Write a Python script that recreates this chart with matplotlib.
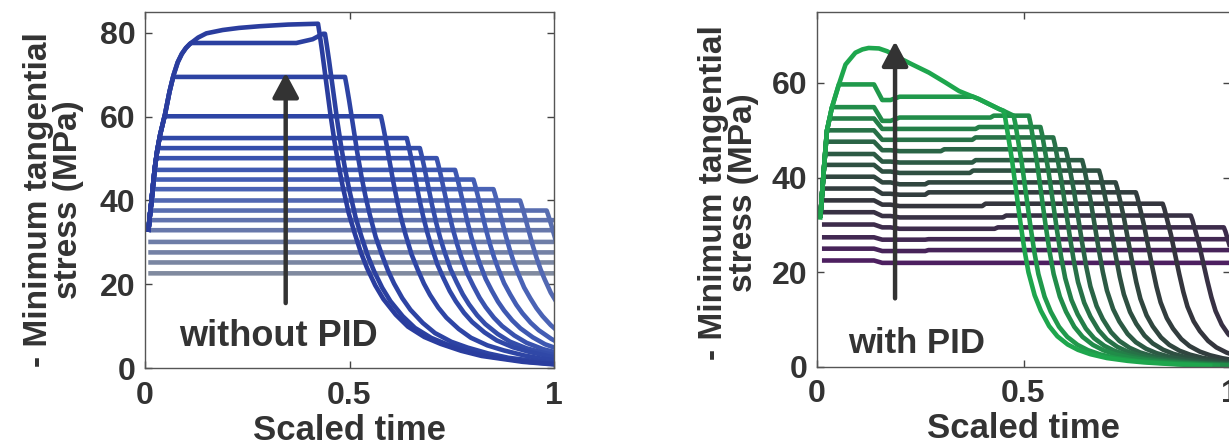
import numpy as np
import matplotlib
matplotlib.use("Agg")
import matplotlib.pyplot as plt
from matplotlib.colors import LinearSegmentedColormap

# ---------------- left panel: without PID ----------------
# rising envelope shared by every run (scaled time, MPa)
off_rise_t = [0.008, 0.012, 0.016, 0.020, 0.024, 0.030, 0.037, 0.049, 0.060, 0.070,
              0.080, 0.090, 0.100, 0.110, 0.130, 0.150, 0.190, 0.230, 0.280, 0.350, 0.423]
off_rise_v = [32.5, 36.5, 40.0, 44.0, 47.8, 52.0, 55.7, 60.6, 66.0, 70.0,
              73.0, 75.0, 76.4, 77.4, 78.9, 79.9, 80.7, 81.2, 81.6, 82.0, 82.2]
# plateau level and time at which the load is released, one per run
off_levels = [22.6, 25.2, 27.6, 30.1, 32.9, 35.3, 37.6, 40.0, 42.7, 45.0,
              47.3, 50.1, 52.5, 54.9, 60.1, 69.5, 77.6, 82.2]
off_switch = [1.02, 1.02, 1.02, 1.02, 1.02, 1.02, 0.982, 0.917, 0.852, 0.803,
              0.758, 0.713, 0.672, 0.640, 0.577, 0.489, 0.440, 0.423]
# small rise just before release on the 77.6 MPa run
off_bump_t = [0.370, 0.410, 0.435]
off_bump_v = [77.6, 78.5, 79.8]
# relaxation after release: time since release vs fraction of held stress
off_decay_dt = [0.0, 0.004, 0.010, 0.020, 0.030, 0.040, 0.050, 0.060, 0.075, 0.090, 0.105,
                0.120, 0.140, 0.160, 0.190, 0.220, 0.260, 0.300, 0.350, 0.400, 0.500, 0.600]
off_decay_f = [1.0, 0.97, 0.92, 0.83, 0.74, 0.66, 0.59, 0.53, 0.45, 0.39, 0.335,
               0.29, 0.24, 0.20, 0.155, 0.12, 0.09, 0.07, 0.05, 0.035, 0.018, 0.008]

# ---------------- right panel: with PID ----------------
# top run, also the cap that the other runs merge into
on_cap_t = [0.008, 0.016, 0.024, 0.036, 0.053, 0.069, 0.093, 0.110, 0.125, 0.150, 0.170, 0.190,
            0.231, 0.271, 0.311, 0.344, 0.392, 0.441, 0.452, 0.476, 0.520, 1.05]
on_cap_v = [31.6, 41.0, 49.9, 54.8, 59.7, 63.9, 66.4, 67.1, 67.4, 67.3, 66.7, 65.7,
            63.9, 62.2, 60.1, 58.3, 56.6, 54.5, 54.1, 53.1, 53.1, 53.1]
on_top_switch = 0.452
# per run: initial level, dip level, level after recovery, later step time/level, release
on_level = [22.5, 25.0, 27.4, 30.1, 32.7, 35.2, 37.7, 40.2, 42.7, 45.0, 47.6, 50.0, 52.5, 54.9, 59.7]
on_dip = [22.0, 24.5, 26.9, 29.5, 31.9, 34.3, 36.6, 39.0, 41.3, 43.4, 45.8, 48.0, 50.3, 52.0, 56.4]
on_recov = [22.0, 24.5, 26.9, 29.2, 31.6, 34.0, 36.4, 38.6, 41.0, 43.2, 45.6, 48.0, 50.3, 52.7, 57.1]
on_step_t = [0.262, 0.262, 0.262, 0.430, 0.450, 0.400, 0.262, 0.262, 0.370, 0.376, 0.300, 0.376, 0.384, 0.420, 0.420]
on_step_v = [22.0, 24.7, 27.0, 29.5, 32.0, 34.5, 36.9, 39.0, 41.5, 43.7, 46.0, 48.5, 50.7, 53.1, 57.1]
on_switch = [1.02, 1.02, 1.02, 0.985, 0.905, 0.837, 0.772, 0.723, 0.683, 0.642, 0.602, 0.572, 0.541, 0.513, 0.476]
on_dip_t = [0.138, 0.158, 0.178, 0.200]
on_decay_dt = [0.0, 0.004, 0.010, 0.020, 0.030, 0.040, 0.050, 0.060, 0.075, 0.090, 0.110,
               0.130, 0.155, 0.180, 0.210, 0.250, 0.300, 0.340, 0.420, 0.500]
on_decay_f = [1.0, 0.97, 0.91, 0.81, 0.69, 0.57, 0.46, 0.37, 0.28, 0.22, 0.16,
              0.12, 0.088, 0.067, 0.05, 0.035, 0.024, 0.018, 0.010, 0.005]

TXT = "#333333"
plt.rcParams["font.family"] = ["Liberation Sans", "DejaVu Sans"]
plt.rcParams["font.weight"] = "bold"


def lower_of(t1, y1, t2, y2, t_lo, t_hi):
    """Pointwise minimum of two piecewise-linear curves on [t_lo, t_hi]."""
    t = np.union1d(np.asarray(t1, float), np.asarray(t2, float))
    t = np.union1d(t[(t >= t_lo) & (t <= t_hi)], [t_lo, t_hi])
    d = np.interp(t, t1, y1) - np.interp(t, t2, y2)
    cross = []
    for i in range(len(t) - 1):
        if d[i] * d[i + 1] < 0:
            cross.append(t[i] + d[i] / (d[i] - d[i + 1]) * (t[i + 1] - t[i]))
    t = np.union1d(t, cross)
    return t, np.minimum(np.interp(t, t1, y1), np.interp(t, t2, y2))


def add_release(t, y, ts, dt, frac):
    y_end = y[-1]
    t_dec = ts + np.asarray(dt)
    y_dec = y_end * np.asarray(frac)
    return np.concatenate([t, t_dec[1:]]), np.concatenate([y, y_dec[1:]])


def style_axes(ax, ymax, yticks):
    ax.set_xlim(0, 1)
    ax.set_ylim(0, ymax)
    ax.set_xticks([0, 0.5, 1])
    ax.set_xticklabels(["0", "0.5", "1"])
    ax.set_yticks(yticks)
    ax.tick_params(direction="in", top=True, right=True, length=5, width=1,
                   color="#444444", labelcolor=TXT, labelsize=23)
    ax.tick_params(axis="x", pad=9)
    ax.tick_params(axis="y", pad=7)
    for s in ax.spines.values():
        s.set_color("#555555")
        s.set_linewidth(1)
    ax.set_xlabel("Scaled time", fontsize=25, color=TXT, fontweight="bold")
    ax.xaxis.set_label_coords(0.5, -0.128)
    ax.set_ylabel("- Minimum tangential\nstress (MPa)", fontsize=24, color=TXT,
                  fontweight="bold", linespacing=0.95)


fig = plt.figure(figsize=(12.29, 4.47), dpi=100)
W, H = 1229, 447
ax1 = fig.add_axes([145 / W, 1 - 368 / H, 409 / W, 356 / H])
ax2 = fig.add_axes([817 / W, 1 - 367 / H, 413 / W, 355 / H])

# left panel
cmap_off = LinearSegmentedColormap.from_list(
    "off", ["#808a9f", "#6777ab", "#4660b6", "#3049a8", "#2a3d9e"])
n_off = len(off_levels)
for i, (lev, ts) in enumerate(zip(off_levels, off_switch)):
    pt = [0.008, ts]
    pv = [lev, lev]
    if lev == 77.6:
        pt = [0.008] + off_bump_t
        pv = [lev] + off_bump_v
    t, y = lower_of(pt, pv, off_rise_t, off_rise_v, 0.008, min(ts, 1.02))
    t, y = add_release(t, y, ts, off_decay_dt, off_decay_f)
    ax1.plot(t, y, color=cmap_off(i / (n_off - 1)), lw=3.3, solid_capstyle="butt")

# right panel
cmap_on = LinearSegmentedColormap.from_list(
    "on", ["#4d1f60", "#3f2a4f", "#34353d", "#2f4a40", "#2a6446", "#228548", "#1ea64d"])
n_on = len(on_level) + 1
for i in range(len(on_level)):
    ts = on_switch[i]
    pt = [0.008, on_dip_t[0], on_dip_t[1], on_dip_t[2], on_dip_t[3],
          on_step_t[i], on_step_t[i] + 0.008, ts]
    pv = [on_level[i], on_level[i], on_dip[i], on_dip[i], on_recov[i],
          on_recov[i], on_step_v[i], on_step_v[i]]
    start = 0.008 if on_level[i] > on_cap_v[0] else 0.012
    t, y = lower_of(pt, pv, on_cap_t, on_cap_v, start, ts)
    t, y = add_release(t, y, ts, on_decay_dt, on_decay_f)
    ax2.plot(t, y, color=cmap_on(i / (n_on - 1)), lw=3.3, solid_capstyle="butt")
top_t = np.array(on_cap_t)
keep = top_t <= on_top_switch
t, y = add_release(top_t[keep], np.array(on_cap_v)[keep], on_top_switch, on_decay_dt, on_decay_f)
ax2.plot(t, y, color=cmap_on(1.0), lw=3.3)

arrow = dict(arrowstyle="-|>,head_length=0.6,head_width=0.32", lw=3.2,
             color=TXT, mutation_scale=25, shrinkA=0, shrinkB=0)
ax1.annotate("", xy=(0.344, 70.5), xytext=(0.344, 15.5), arrowprops=arrow)
ax2.annotate("", xy=(0.189, 68.8), xytext=(0.189, 14.5), arrowprops=arrow)
ax1.text(0.325, 7.6, "without PID", ha="center", va="center", fontsize=26,
         fontweight="bold", color=TXT)
ax2.text(0.242, 5.0, "with PID", ha="center", va="center", fontsize=25,
         fontweight="bold", color=TXT)

style_axes(ax1, 85, [0, 20, 40, 60, 80])
style_axes(ax2, 75, [0, 20, 40, 60])
ax1.yaxis.set_label_coords(-0.15, 0.472)
ax2.yaxis.set_label_coords(-0.14, 0.49)

fig.savefig("out.png", dpi=100)
